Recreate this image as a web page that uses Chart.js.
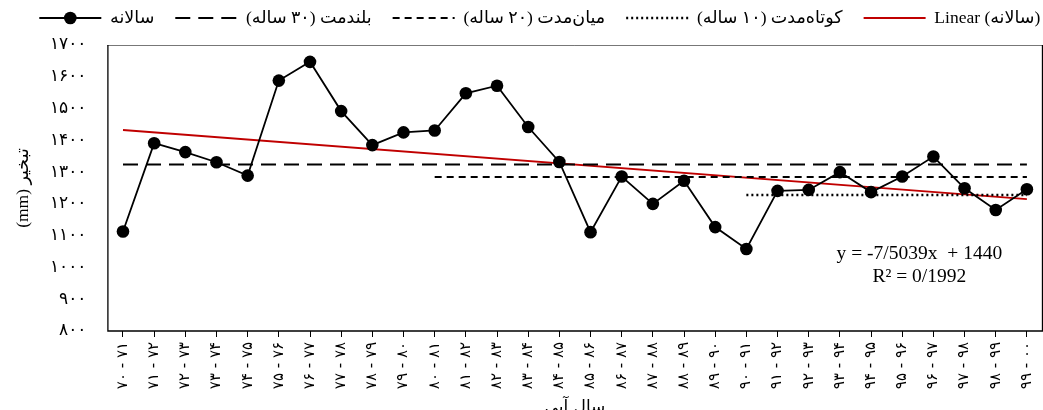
<!DOCTYPE html>
<html>
<head>
<meta charset="utf-8">
<script src="https://cdn.jsdelivr.net/npm/chart.js@4.4.1/dist/chart.umd.min.js"></script>
<style>
  html, body { margin: 0; padding: 0; background: #fff; overflow: hidden; }
  canvas { display: block; }
</style>
</head>
<body>
<canvas id="evap" width="1050" height="420"></canvas>
<script>
// Water years (Persian calendar)
const yearLabels = [
  '۷۰ - ۷۱', '۷۱ - ۷۲', '۷۲ - ۷۳', '۷۳ - ۷۴', '۷۴ - ۷۵', '۷۵ - ۷۶', '۷۶ - ۷۷', '۷۷ - ۷۸', '۷۸ - ۷۹', '۷۹ - ۸۰',
  '۸۰ - ۸۱', '۸۱ - ۸۲', '۸۲ - ۸۳', '۸۳ - ۸۴', '۸۴ - ۸۵', '۸۵ - ۸۶', '۸۶ - ۸۷', '۸۷ - ۸۸', '۸۸ - ۸۹', '۸۹ - ۹۰',
  '۹۰ - ۹۱', '۹۱ - ۹۲', '۹۲ - ۹۳', '۹۳ - ۹۴', '۹۴ - ۹۵', '۹۵ - ۹۶', '۹۶ - ۹۷', '۹۷ - ۹۸', '۹۸ - ۹۹', '۹۹ - ۰۰'
];

// Annual evaporation (mm)
const annualEvap = [
  1113, 1391, 1363, 1331, 1289, 1588, 1647, 1492, 1385, 1425,
  1431, 1548, 1572, 1442, 1332, 1111, 1286, 1200, 1273, 1127,
  1058, 1241, 1244, 1300, 1237, 1286, 1349, 1249, 1181, 1246
];

// Period means (mm) and the index of the first year each one covers
const longTermMean = 1324;   // 30 years
const longTermStart = 0;
const midTermMean = 1285;    // 20 years
const midTermStart = 10;
const shortTermMean = 1228;  // 10 years
const shortTermStart = 20;

// Linear trend of the annual series
const trendSlope = -7.5039;
const trendIntercept = 1440;
const trendR2 = 0.1992;

const yTickLabels = ['۸۰۰', '۹۰۰', '۱۰۰۰', '۱۱۰۰', '۱۲۰۰', '۱۳۰۰', '۱۴۰۰', '۱۵۰۰', '۱۶۰۰', '۱۷۰۰'];

const seriesNames = [
  'سالانه',
  'بلندمت (۳۰ ساله)',
  'میان‌مدت (۲۰ ساله)',
  'کوتاه‌مدت (۱۰ ساله)',
  'Linear (سالانه)'
];

const FONT_SERIF = "'Liberation Serif', 'DejaVu Sans', serif";
const FONT_FA = "'DejaVu Sans', sans-serif";

const meanLine = (value, start) => yearLabels.map((_, i) => (i >= start ? value : null));
const n = yearLabels.length;
const trendLine = yearLabels.map((_, i) =>
  (i === 0 || i === n - 1) ? trendIntercept + trendSlope * (i + 1) : null);

const fmtDec = (v) => String(v).replace('.', '/');

const LEGEND_BOX = 82;     // legend slot reserved for each symbol
const LEGEND_SYMBOL = 62;  // drawn symbol length inside that slot
const LEGEND_SHIFT = 7;    // horizontal nudge of the legend row

// Plot frame
const framePlugin = {
  id: 'frame',
  beforeDatasetsDraw(chart) {
    const { ctx, chartArea: a } = chart;
    ctx.save();
    ctx.lineWidth = 1;
    ctx.strokeStyle = '#777';
    ctx.beginPath();
    ctx.moveTo(a.left, a.top + 0.5);
    ctx.lineTo(a.right, a.top + 0.5);
    ctx.stroke();
    ctx.strokeStyle = '#000';
    ctx.lineWidth = 1.3;
    ctx.beginPath();
    ctx.moveTo(a.left + 0.5, a.top);
    ctx.lineTo(a.left + 0.5, a.bottom);
    ctx.lineTo(a.right, a.bottom);
    ctx.lineTo(a.right, a.top);
    ctx.stroke();
    ctx.restore();
  }
};

// Legend row placement and its line symbols
const legendSymbolPlugin = {
  id: 'legendSymbols',
  afterLayout(chart) {
    if (chart.legend) {
      chart.legend.left += LEGEND_SHIFT;
      chart.legend.right += LEGEND_SHIFT;
    }
  },
  afterDraw(chart) {
    const legend = chart.legend;
    if (!legend || !legend.legendHitBoxes) return;
    const { ctx } = chart;
    legend.legendHitBoxes.forEach((hb, i) => {
      const ds = chart.data.datasets[i];
      const x1 = hb.left + LEGEND_BOX - LEGEND_SYMBOL;
      const x2 = hb.left + LEGEND_BOX;
      const y = hb.top + hb.height / 2;
      ctx.save();
      ctx.strokeStyle = ds.borderColor;
      ctx.lineWidth = ds.borderWidth;
      ctx.setLineDash(ds.borderDash || []);
      ctx.beginPath();
      ctx.moveTo(x1, y);
      ctx.lineTo(x2, y);
      ctx.stroke();
      if (ds.pointRadius > 0) {
        ctx.setLineDash([]);
        ctx.fillStyle = ds.pointBackgroundColor;
        ctx.beginPath();
        ctx.arc((x1 + x2) / 2, y, ds.pointRadius, 0, Math.PI * 2);
        ctx.fill();
      }
      ctx.restore();
    });
  }
};

// Trend equation and R²
const equationPlugin = {
  id: 'equation',
  afterDatasetsDraw(chart) {
    const { ctx, scales } = chart;
    const x = scales.x.getPixelForValue(25.55);
    ctx.save();
    ctx.fillStyle = '#000';
    ctx.font = '19.5px ' + FONT_SERIF;
    ctx.textAlign = 'center';
    ctx.textBaseline = 'middle';
    const sign = trendSlope < 0 ? '-' : '';
    ctx.fillText('y = ' + sign + fmtDec(Math.abs(trendSlope)) + 'x  + ' + trendIntercept, x, scales.y.getPixelForValue(1044));
    ctx.fillText('R² = ' + fmtDec(trendR2), x, scales.y.getPixelForValue(971));
    ctx.restore();
  }
};

new Chart(document.getElementById('evap'), {
  type: 'line',
  data: {
    labels: yearLabels,
    datasets: [
      {
        label: seriesNames[0], data: annualEvap,
        borderColor: '#000', backgroundColor: '#000', borderWidth: 1.8,
        pointRadius: 6.3, pointHoverRadius: 6.3, pointBorderWidth: 0,
        pointBackgroundColor: '#000', tension: 0
      },
      {
        label: seriesNames[1], data: meanLine(longTermMean, longTermStart),
        borderColor: '#000', borderWidth: 2, borderDash: [15, 8], pointRadius: 0
      },
      {
        label: seriesNames[2], data: meanLine(midTermMean, midTermStart),
        borderColor: '#000', borderWidth: 2, borderDash: [7, 5], pointRadius: 0
      },
      {
        label: seriesNames[3], data: meanLine(shortTermMean, shortTermStart),
        borderColor: '#000', borderWidth: 2.6, borderDash: [2, 3], pointRadius: 0
      },
      {
        label: seriesNames[4], data: trendLine,
        borderColor: '#c00000', borderWidth: 1.8, pointRadius: 0, spanGaps: true
      }
    ]
  },
  options: {
    responsive: false,
    animation: false,
    devicePixelRatio: 1,
    layout: { padding: { left: 0, right: 4.4, top: 0, bottom: 0 } },
    plugins: {
      tooltip: { enabled: false },
      legend: {
        position: 'top',
        align: 'center',
        labels: {
          boxWidth: LEGEND_BOX,
          boxHeight: 34,
          padding: 1,
          color: '#000',
          font: { family: FONT_SERIF, size: 17.5 },
          generateLabels(chart) {
            return chart.data.datasets.map((ds, i) => ({
              text: ds.label,
              fillStyle: 'rgba(0,0,0,0)',
              strokeStyle: 'rgba(0,0,0,0)',
              lineWidth: 0,
              fontColor: '#000',
              hidden: false,
              datasetIndex: i
            }));
          }
        }
      }
    },
    scales: {
      x: {
        type: 'category',
        offset: true,
        border: { display: false },
        grid: { drawOnChartArea: false, drawTicks: true, tickLength: 6, color: '#000', lineWidth: 1 },
        ticks: {
          autoSkip: false, maxRotation: 90, minRotation: 90, padding: 5,
          color: '#000', font: { family: FONT_FA, size: 15 }
        },
        title: {
          display: true, text: 'سال آبی', color: '#000',
          font: { family: FONT_FA, size: 17 }, padding: { top: 0, bottom: 2 }
        },
        afterFit(scale) { scale.height = 420 - 331; }
      },
      y: {
        min: 800, max: 1700,
        border: { display: false },
        grid: { display: false, drawTicks: false },
        ticks: {
          stepSize: 100, padding: 21, color: '#000',
          font: { family: FONT_FA, size: 17 },
          callback: (v) => yTickLabels[Math.round((v - 800) / 100)]
        },
        title: {
          display: true, text: '(mm) تبخیر', color: '#000',
          font: { family: FONT_SERIF, size: 17.5 }, padding: { top: 13, bottom: 0 }
        },
        afterFit(scale) { scale.width = 107.4; }
      }
    }
  },
  plugins: [framePlugin, legendSymbolPlugin, equationPlugin]
});
</script>
</body>
</html>
